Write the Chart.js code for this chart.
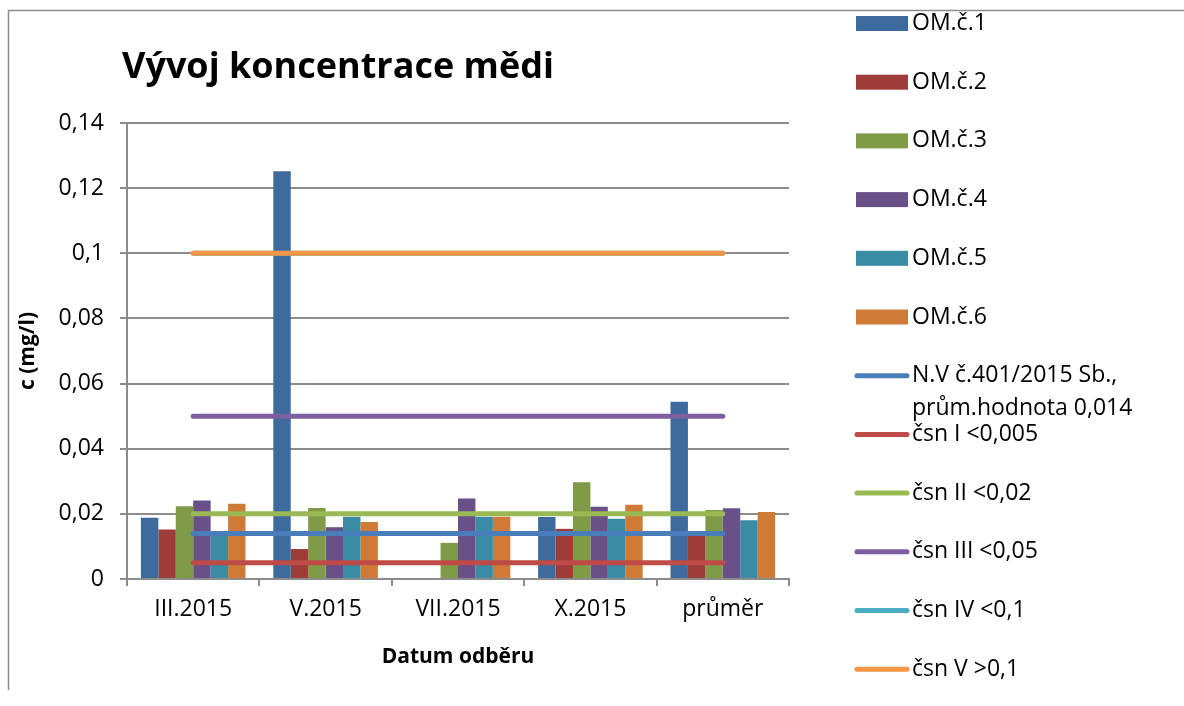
<!DOCTYPE html>
<html>
<head>
<meta charset="utf-8">
<script src="https://cdn.jsdelivr.net/npm/chart.js@4.4.1/dist/chart.umd.min.js"></script>
<style>
  html, body { margin: 0; padding: 0; background: #fff; }
</style>
</head>
<body>
<canvas id="chart" width="1184" height="706"></canvas>
<script>
// data
const categories = ['III.2015', 'V.2015', 'VII.2015', 'X.2015', 'průměr'];
const om1 = [0.0188, 0.1252, null, 0.0190, 0.0544];
const om2 = [0.0152, 0.0092, null, 0.0154, 0.0133];
const om3 = [0.0223, 0.0218, 0.0111, 0.0297, 0.0212];
const om4 = [0.0241, 0.0159, 0.0247, 0.0222, 0.0217];
const om5 = [0.0145, 0.0191, 0.0191, 0.0185, 0.0180];
const om6 = [0.0231, 0.0175, 0.0191, 0.0228, 0.0206];

// limit values (horizontal lines)
const limitLabels = [
  ['N.V č.401/2015 Sb.,', 'prům.hodnota 0,014'],
  'čsn I <0,005',
  'čsn II <0,02',
  'čsn III <0,05',
  'čsn IV <0,1',
  'čsn V >0,1'
];
const limitValues = [0.014, 0.005, 0.02, 0.05, 0.1, 0.1];

const yTicks = [0, 0.02, 0.04, 0.06, 0.08, 0.1, 0.12, 0.14];

const barColors = ['#3F6A9E', '#9E3C3A', '#7F9B47', '#6A5089', '#3A8BA3', '#CF7B37'];
const lineColors = ['#4A7EBB', '#BE4B48', '#98B954', '#7D5FA0', '#4BACC6', '#F79646'];

const FONT = '"Open Sans", "DejaVu Sans", sans-serif';

const barSets = [om1, om2, om3, om4, om5, om6].map((d, i) => ({
  type: 'bar',
  label: 'OM.č.' + (i + 1),
  data: d,
  backgroundColor: barColors[i],
  borderWidth: 0,
  barPercentage: 1,
  categoryPercentage: 0.79,
  order: 3
}));

const lineSets = limitValues.map((v, i) => ({
  type: 'line',
  label: limitLabels[i],
  data: categories.map(() => v),
  borderColor: lineColors[i],
  backgroundColor: lineColors[i],
  borderWidth: 5,
  borderCapStyle: 'round',
  pointRadius: 0,
  fill: false,
  order: i === 5 ? 1 : 2
}));

// title, axis titles, legend, outer frame
const decor = {
  id: 'decor',
  beforeDraw(chart) {
    const ctx = chart.ctx;
    ctx.save();
    ctx.strokeStyle = '#8c8c8c';
    ctx.lineWidth = 1.5;
    ctx.beginPath();
    ctx.moveTo(1184, 10.5);
    ctx.lineTo(8.5, 10.5);
    ctx.lineTo(8.5, 690);
    ctx.stroke();
    ctx.restore();
  },
  afterDraw(chart) {
    const ctx = chart.ctx;
    const area = chart.chartArea;
    ctx.save();
    ctx.fillStyle = '#000';
    ctx.textBaseline = 'middle';

    ctx.font = 'bold 36px ' + FONT;
    ctx.textAlign = 'left';
    ctx.fillText('Vývoj koncentrace mědi', 122, 68);

    ctx.font = 'bold 21px ' + FONT;
    ctx.textAlign = 'center';
    ctx.fillText('Datum odběru', (area.left + area.right) / 2, 657);

    ctx.save();
    ctx.translate(28, (area.top + area.bottom) / 2);
    ctx.rotate(-Math.PI / 2);
    ctx.fillText('c (mg/l)', 0, 0);
    ctx.restore();

    // legend
    ctx.font = '23px ' + FONT;
    ctx.textAlign = 'left';
    chart.data.datasets.forEach((ds, i) => {
      const y = 23.5 + i * 58.7;
      if (ds.type === 'bar') {
        ctx.fillStyle = ds.backgroundColor;
        ctx.fillRect(856, y - 7.5, 52, 15);
      } else {
        ctx.strokeStyle = ds.borderColor;
        ctx.lineWidth = 5;
        ctx.lineCap = 'round';
        ctx.beginPath();
        ctx.moveTo(857, y);
        ctx.lineTo(907, y);
        ctx.stroke();
      }
      ctx.fillStyle = '#000';
      const lines = Array.isArray(ds.label) ? ds.label : [ds.label];
      lines.forEach((t, k) => ctx.fillText(t, 912, y + k * 33));
    });
    ctx.restore();
  }
};

new Chart(document.getElementById('chart'), {
  data: {
    labels: categories,
    datasets: [...barSets, ...lineSets]
  },
  options: {
    responsive: false,
    animation: false,
    layout: { padding: { top: 123, right: 395, left: 0, bottom: 0 } },
    plugins: {
      legend: { display: false },
      title: { display: false },
      tooltip: { enabled: false }
    },
    scales: {
      x: {
        offset: true,
        grid: {
          offset: true,
          drawOnChartArea: false,
          drawTicks: true,
          tickLength: 7,
          color: '#8c8c8c',
          lineWidth: 2
        },
        border: { display: true, color: '#8c8c8c', width: 2 },
        ticks: { color: '#000', font: { family: FONT, size: 23 }, padding: 10 },
        afterFit(scale) { scale.height = 127; }
      },
      y: {
        min: 0,
        max: 0.14,
        afterBuildTicks(scale) { scale.ticks = yTicks.map(v => ({ value: v })); },
        grid: {
          color: '#8c8c8c',
          lineWidth: 2,
          tickLength: 7
        },
        border: { display: true, color: '#8c8c8c', width: 2 },
        ticks: {
          color: '#000',
          font: { family: FONT, size: 23 },
          padding: 16,
          callback: v => String(Math.round(v * 100) / 100).replace('.', ',')
        },
        afterFit(scale) { scale.width = 127; }
      }
    }
  },
  plugins: [decor]
});
</script>
</body>
</html>
